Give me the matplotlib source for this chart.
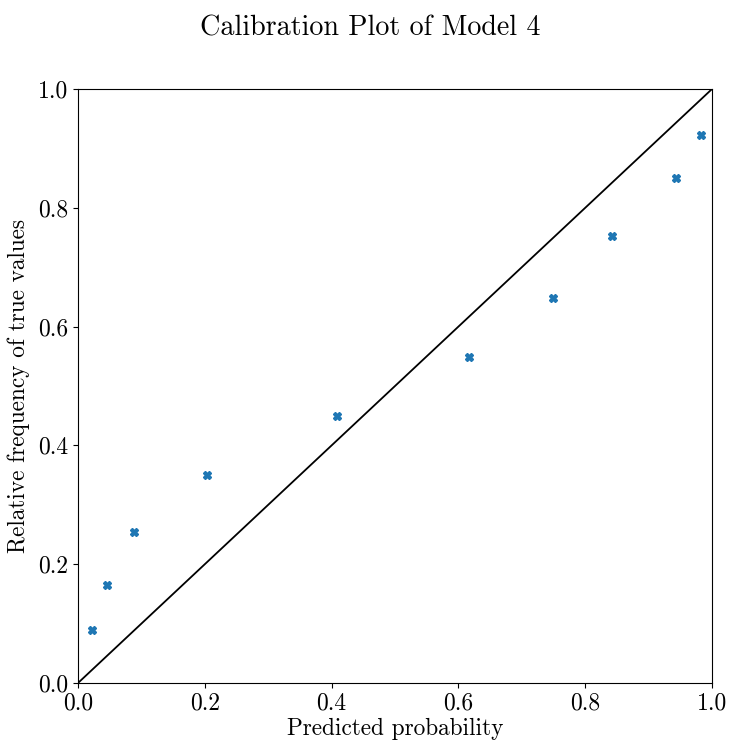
import matplotlib
matplotlib.use("Agg")
import matplotlib.pyplot as plt

plt.rcParams['font.family'] = 'serif'
plt.rcParams['font.serif'] = ['cmr10']
plt.rcParams['mathtext.fontset'] = 'cm'
plt.rcParams['axes.formatter.use_mathtext'] = True
plt.rcParams['axes.unicode_minus'] = False

pred = [0.022, 0.046, 0.088, 0.203, 0.408, 0.617, 0.749, 0.842, 0.943, 0.983]
freq = [0.089, 0.165, 0.254, 0.350, 0.449, 0.549, 0.648, 0.753, 0.850, 0.923]
diag = [0.0, 1.0]

fig = plt.figure(figsize=(7.31, 7.45), dpi=100)
ax = fig.add_axes([0.1067, 0.0832, 0.8673, 0.7973])
ax.plot(diag, diag, color='black', linewidth=1.3)
ax.plot(pred, freq, linestyle='none', marker='X', markersize=6, color='#1f77b4')
ax.set_xlim(0, 1)
ax.set_ylim(0, 1)
ax.set_xticks([0, 0.2, 0.4, 0.6, 0.8, 1.0])
ax.set_yticks([0, 0.2, 0.4, 0.6, 0.8, 1.0])
ax.set_xticklabels(['0.0', '0.2', '0.4', '0.6', '0.8', '1.0'])
ax.set_yticklabels(['0.0', '0.2', '0.4', '0.6', '0.8', '1.0'])
ax.tick_params(labelsize=17)
ax.set_xlabel('Predicted probability', fontsize=16.8, labelpad=2)
ax.set_ylabel('Relative frequency of true values', fontsize=16.8, labelpad=6)
fig.suptitle('Calibration Plot of Model 4', fontsize=20.2, x=0.507, y=0.98)
fig.savefig('out.png', dpi=100)
